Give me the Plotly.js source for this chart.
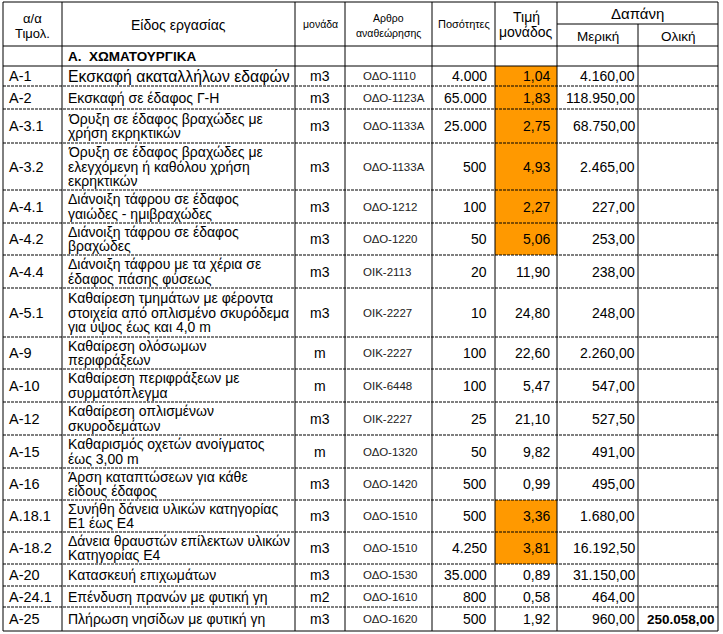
<!DOCTYPE html>
<html>
<head>
<meta charset="utf-8">
<script src="https://cdn.plot.ly/plotly-3.0.1.min.js"></script>
<style>html,body{margin:0;padding:0;background:#fff;}#chart{width:723px;height:634px;}</style>
</head>
<body>
<div id="chart"></div>
<script>
// ---------------- DATA ----------------
const headerLabels = {
  code: ["α/α", "Τιμολ."],
  desc: ["Είδος εργασίας"],
  unit: ["μονάδα"],
  article: ["Αρθρο", "αναθεώρησης"],
  qty: ["Ποσότητες"],
  price: ["Τιμή", "μονάδος"],
  cost: ["Δαπάνη"],
  partial: ["Μερική"],
  total: ["Ολική"]
};
const sectionTitle = "Α.  ΧΩΜΑΤΟΥΡΓΙΚΑ";
const codes = ["A-1","A-2","A-3.1","A-3.2","A-4.1","A-4.2","A-4.4","A-5.1","A-9","A-10","A-12","A-15","A-16","A.18.1","A-18.2","A-20","A-24.1","A-25"];
const descriptions = [
  ["Εκσκαφή ακαταλλήλων εδαφών"],
  ["Εκσκαφή σε έδαφος Γ-Η"],
  ["Όρυξη σε έδαφος βραχώδες με","χρήση εκρηκτικών"],
  ["Όρυξη σε έδαφος βραχώδες με","ελεγχόμενη ή καθόλου χρήση","εκρηκτικών"],
  ["Διάνοιξη τάφρου σε έδαφος","γαιώδες - ημιβραχώδες"],
  ["Διάνοιξη τάφρου σε έδαφος","βραχώδες"],
  ["Διάνοιξη τάφρου με τα χέρια σε","έδαφος πάσης φύσεως"],
  ["Καθαίρεση τμημάτων με φέροντα","στοιχεία από οπλισμένο σκυρόδεμα","για ύψος έως και 4,0 m"],
  ["Καθαίρεση ολόσωμων","περιφράξεων"],
  ["Καθαίρεση περιφράξεων με","συρματόπλεγμα"],
  ["Καθαίρεση οπλισμένων","σκυροδεμάτων"],
  ["Καθαρισμός οχετών ανοίγματος","έως 3,00 m"],
  ["Άρση καταπτώσεων για κάθε","είδους έδαφος"],
  ["Συνήθη δάνεια υλικών κατηγορίας","Ε1 έως Ε4"],
  ["Δάνεια θραυστών επίλεκτων υλικών","Κατηγορίας Ε4"],
  ["Κατασκευή επιχωμάτων"],
  ["Επένδυση πρανών με φυτική γη"],
  ["Πλήρωση νησίδων με φυτική γη"]
];
const units = ["m3","m3","m3","m3","m3","m3","m3","m3","m","m","m3","m","m3","m3","m3","m3","m2","m3"];
const articles = ["ΟΔΟ-1110","ΟΔΟ-1123Α","ΟΔΟ-1133Α","ΟΔΟ-1133Α","ΟΔΟ-1212","ΟΔΟ-1220","ΟΙΚ-2113","ΟΙΚ-2227","ΟΙΚ-2227","ΟΙΚ-6448","ΟΙΚ-2227","ΟΔΟ-1320","ΟΔΟ-1420","ΟΔΟ-1510","ΟΔΟ-1510","ΟΔΟ-1530","ΟΔΟ-1610","ΟΔΟ-1620"];
const quantities = [4000,65000,25000,500,100,50,20,10,100,100,25,50,500,500,4250,35000,800,500];
const unitPrices = [1.04,1.83,2.75,4.93,2.27,5.06,11.90,24.80,22.60,5.47,21.10,9.82,0.99,3.36,3.81,0.89,0.58,1.92];
const partialCosts = [4160,118950,68750,2465,227,253,238,248,2260,547,527.5,491,495,1680,16192.5,31150,464,960];
const totalCost = 250058.00;
const highlightedPrice = [true,true,true,true,true,true,false,false,false,false,false,false,false,true,true,false,false,false];

// ---------------- LAYOUT (positions / sizes / styles) ----------------
const colEdges = [3,62,295,345,432,495,557,638,718];
const headerTop = 2, headerMid = 24, headerBottom = 46, sectionBottom = 66;
const rowEdges = [66,86,109,143,190,223,255,288,337,369,402,435,468,500,532,564,586,607,631];
const FONT = "Liberation Sans, Arial, sans-serif";
const ORANGE = "#FF9900";
const lineSpacing = 14.5;

function fmt(v, dec) {
  const parts = v.toFixed(dec).split(".");
  const intPart = parts[0].replace(/\B(?=(\d{3})+(?!\d))/g, ".");
  return dec > 0 ? intPart + "," + parts[1] : intPart;
}

const shapes = [];
const annotations = [];

function txt(x, y, text, size, anchor, opts) {
  opts = opts || {};
  annotations.push({
    x: x, y: y, xref: "x", yref: "y", text: text, showarrow: false,
    xanchor: anchor, yanchor: "middle", borderpad: 0, borderwidth: 0,
    font: {family: FONT, size: size, color: opts.color || "#000"}
  });
}
function hline(x0, x1, y, dotted) {
  shapes.push({type: "line", xref: "x", yref: "y", x0: x0, x1: x1, y0: y, y1: y,
    line: {color: "#000", width: dotted ? 1.2 : 1, dash: dotted ? "3px,1px" : "solid"}});
}
function vline(x, y0, y1) {
  shapes.push({type: "line", xref: "x", yref: "y", x0: x, x1: x, y0: y0, y1: y1,
    line: {color: "#000", width: 1}});
}

// orange fills
codes.forEach((c, i) => {
  if (highlightedPrice[i]) {
    shapes.push({type: "rect", xref: "x", yref: "y", x0: colEdges[5], x1: colEdges[6],
      y0: rowEdges[i], y1: rowEdges[i + 1], fillcolor: ORANGE, line: {width: 0}, layer: "below"});
  }
});

// horizontal lines
hline(colEdges[0], colEdges[8], headerTop, false);
hline(colEdges[6], colEdges[8], headerMid, false);
hline(colEdges[0], colEdges[8], headerBottom, false);
hline(colEdges[0], colEdges[8], sectionBottom, false);
for (let i = 1; i < rowEdges.length - 1; i++) hline(colEdges[0], colEdges[8], rowEdges[i], true);
hline(colEdges[0], colEdges[8], rowEdges[rowEdges.length - 1], false);
// vertical lines
colEdges.forEach((x, j) => {
  if (j === 7) vline(x, headerMid, rowEdges[rowEdges.length - 1]);
  else vline(x, headerTop, rowEdges[rowEdges.length - 1]);
});

// header text
const cx = j => (colEdges[j] + colEdges[j + 1]) / 2;
txt(cx(0), 18, headerLabels.code[0], 13, "center");
txt(cx(0), 33, headerLabels.code[1], 13, "center");
txt(cx(1), 25, headerLabels.desc[0], 14, "center");
txt(cx(2), 24, headerLabels.unit[0], 10.5, "center");
txt(cx(3), 18, headerLabels.article[0], 10.5, "center");
txt(cx(3), 33, headerLabels.article[1], 10.5, "center");
txt(cx(4), 24, headerLabels.qty[0], 11, "center");
txt(cx(5), 17, headerLabels.price[0], 14, "center");
txt(cx(5), 32, headerLabels.price[1], 14, "center");
txt((colEdges[6] + colEdges[8]) / 2, 13, headerLabels.cost[0], 15, "center");
txt(cx(6), 36, headerLabels.partial[0], 13.5, "center");
txt(cx(7), 36, headerLabels.total[0], 13.5, "center");

// section title
annotations.push({x: 67, y: 56, xref: "x", yref: "y", text: "<b>" + sectionTitle + "</b>", showarrow: false,
  xanchor: "left", yanchor: "middle", borderpad: 0, font: {family: FONT, size: 13.5, color: "#000"}});

// body rows
codes.forEach((c, i) => {
  const top = rowEdges[i], bot = rowEdges[i + 1], mid = (top + bot) / 2;
  txt(9, mid, c, 14.5, "left");
  const lines = descriptions[i];
  const size = (i === 0) ? 15.8 : 14;
  lines.forEach((ln, k) => {
    txt(68, mid + (k - (lines.length - 1) / 2) * lineSpacing, ln, size, "left");
  });
  txt(cx(2), mid, units[i], 14, "center");
  txt(363, mid, articles[i], 11.5, "left", {color: "#222"});
  txt(487, mid, fmt(quantities[i], 0), 14, "right");
  txt(550, mid, fmt(unitPrices[i], 2), 14, "right");
  txt(635, mid, fmt(partialCosts[i], 2), 14, "right");
});
const lastMid = (rowEdges[rowEdges.length - 2] + rowEdges[rowEdges.length - 1]) / 2;
annotations.push({x: 716, y: lastMid, xref: "x", yref: "y", text: "<b>" + fmt(totalCost, 2) + "</b>", showarrow: false,
  xanchor: "right", yanchor: "middle", borderpad: 0, font: {family: FONT, size: 13.5, color: "#000"}});

const layout = {
  width: 723, height: 634,
  margin: {l: 0, r: 0, t: 0, b: 0},
  paper_bgcolor: "#fff", plot_bgcolor: "#fff",
  xaxis: {range: [0, 723], visible: false, fixedrange: true},
  yaxis: {range: [634, 0], visible: false, fixedrange: true},
  showlegend: false,
  shapes: shapes,
  annotations: annotations
};
Plotly.newPlot("chart", [{type: "scatter", x: [], y: [], mode: "markers"}], layout, {staticPlot: true, displayModeBar: false});
</script>
</body>
</html>
